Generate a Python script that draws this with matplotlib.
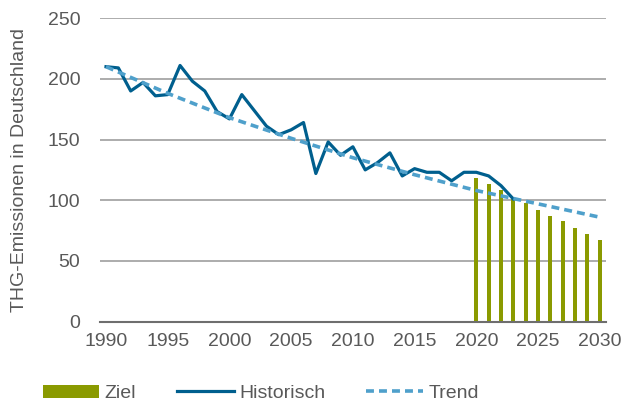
import numpy as np
import matplotlib
matplotlib.use("Agg")
import matplotlib.pyplot as plt

plt.rcParams["font.family"] = ["Liberation Sans", "DejaVu Sans"]

# historische Emissionen 1990-2023
hist_years = list(range(1990, 2024))
hist_values = [210, 209, 190, 197, 186, 187, 211, 198, 190, 173,
               167, 187, 174, 161, 154, 158, 164, 122, 148, 137,
               144, 125, 131, 139, 120, 126, 123, 123, 116, 123,
               123, 120, 112, 101]

# Zielpfad 2020-2030
ziel_years = list(range(2020, 2031))
ziel_values = [118, 113, 108, 102, 98, 92, 87, 83, 77, 72, 67]

trend_years = [1990, 1995, 2000, 2005, 2010, 2015, 2020, 2025, 2030]
trend_values = [210, 188, 168, 151, 135, 121, 108, 97, 86]

grey_text = "#595959"

fig = plt.figure(figsize=(6.24, 4.03), dpi=100)
ax = fig.add_axes([0.160, 0.202, 0.811, 0.753])

b = ax.bar(ziel_years, ziel_values, width=0.34, color="#8A9A00", label="Ziel", zorder=2)
h, = ax.plot(hist_years, hist_values, color="#005F8E", lw=2.3, label="Historisch", zorder=3)
t, = ax.plot(trend_years, trend_values, color="#4FA0CB", lw=2.6, ls=(0, (2.2, 1.4)),
             label="Trend", zorder=4)

ax.set_xlim(1989.5, 2030.5)
ax.set_ylim(0, 250)
ax.set_xticks(range(1990, 2031, 5))
ax.set_yticks(range(0, 251, 50))
ax.yaxis.grid(True, color="#A6A6A6", lw=1.3)
ax.set_axisbelow(True)
for s in ["left", "right", "top"]:
    ax.spines[s].set_visible(False)
ax.spines["bottom"].set_color("#6E6E6E")
ax.spines["bottom"].set_linewidth(1.5)
ax.tick_params(axis="both", length=0, labelsize=14, labelcolor=grey_text)
ax.tick_params(axis="y", pad=14)
ax.tick_params(axis="x", pad=8)
ax.set_ylabel("THG-Emissionen in Deutschland", fontsize=14, color=grey_text, labelpad=14)

fig.legend([b, h, t], ["Ziel", "Historisch", "Trend"],
           loc="center", bbox_to_anchor=(0.418, 0.024), ncol=3, frameon=False,
           fontsize=14, labelcolor=grey_text, handlelength=2.9, handleheight=0.65,
           handletextpad=0.3, columnspacing=2.1)

fig.savefig("out.png", dpi=100)
